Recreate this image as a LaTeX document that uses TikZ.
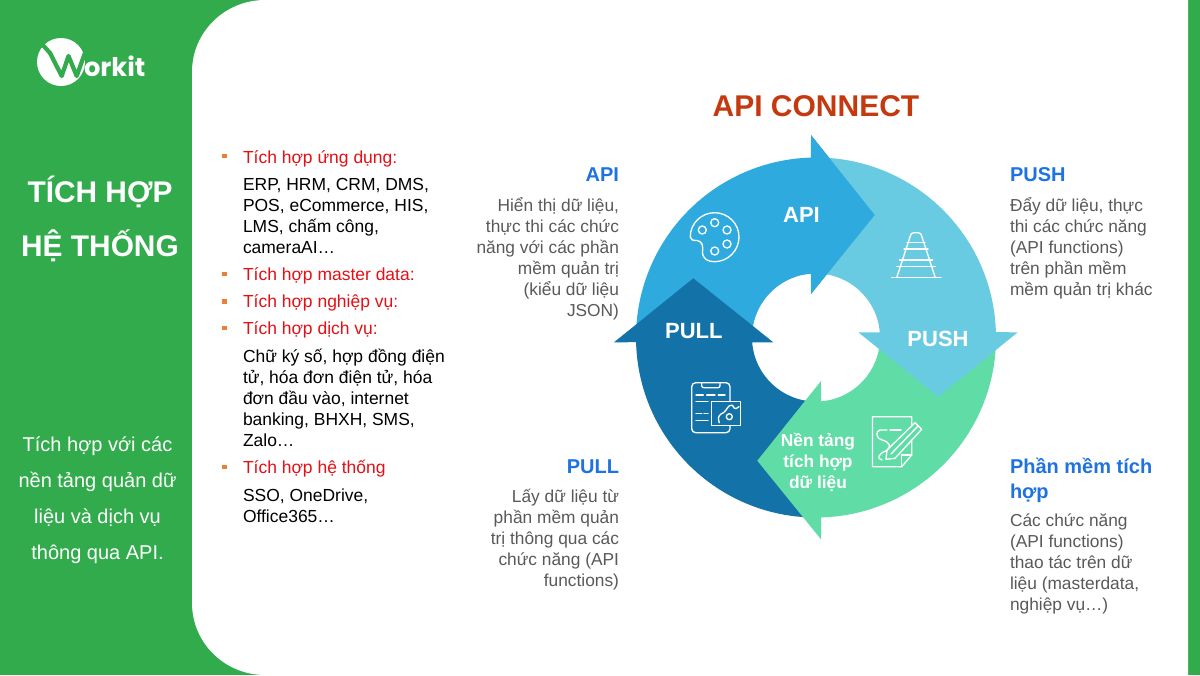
\documentclass[tikz,border=0pt]{standalone}
\usepackage{fontspec}
\setmainfont{Liberation Sans}
\newfontfamily\logofont{Poppins}[BoldFont=* Bold]
\usetikzlibrary{calc}
\definecolor{pagegreen}{HTML}{31AB4C}
\definecolor{apiblue}{HTML}{2EAADF}
\definecolor{pushblue}{HTML}{69CBE2}
\definecolor{mint}{HTML}{60DCA6}
\definecolor{pulldark}{HTML}{1373A8}
\definecolor{titlered}{HTML}{C5390F}
\definecolor{headblue}{HTML}{1F73E0}
\definecolor{greytext}{HTML}{595959}
\definecolor{listred}{HTML}{E31016}
\definecolor{bulletor}{HTML}{E8803A}
\tikzset{
  txt/.style={inner sep=0pt,outer sep=0pt},
  sidehead/.style={txt,anchor=base,text=white,font=\bfseries\fontsize{22.4}{26}\selectfont},
  sidebody/.style={txt,anchor=base,text=white,align=center,font=\fontsize{15}{27}\selectfont},
  ringlabel/.style={txt,anchor=base,text=white,align=center,font=\bfseries\fontsize{16.5}{19}\selectfont},
  headR/.style={txt,anchor=base east,text=headblue,font=\bfseries\fontsize{15}{18.75}\selectfont},
  headL/.style={txt,anchor=base west,align=left,text=headblue,font=\bfseries\fontsize{15}{18.75}\selectfont},
  bodyR/.style={txt,anchor=base east,align=right,text=greytext,font=\fontsize{13}{15.75}\selectfont},
  bodyL/.style={txt,anchor=base west,align=left,text=greytext,font=\fontsize{13}{15.75}\selectfont},
  listhead/.style={txt,anchor=base west,text=listred,font=\fontsize{13.1}{15.75}\selectfont},
  listbody/.style={txt,anchor=base west,align=left,text=black,font=\fontsize{13.1}{15.75}\selectfont},
  bullet/.style={fill=bulletor,draw=none,minimum size=3.4pt,inner sep=0pt},
  icon/.style={draw=white,line width=1pt,line cap=round,line join=round},
}
\begin{document}
\begin{tikzpicture}[x=0.75pt,y=-0.75pt]
\useasboundingbox (0,0) rectangle (1200,675);
% page
\fill[pagegreen] (0,0) rectangle (1200,675);
\fill[white] (1188,0) -- (265,0) .. controls (225,0) and (192,32) .. (192,72) -- (192,603) .. controls (192,643) and (225,675) .. (265,675) -- (1188,675) -- cycle;
% logo
\fill[white] (61,62) circle[radius=24];
\draw[pagegreen,line width=3.2pt,line join=round] (41,43) -- (50,53) -- (61.7,76) -- (68.5,56) -- (76.7,76) -- (86,50);
\node[txt,anchor=base west,text=white,font=\logofont\bfseries\fontsize{19.3}{24}\selectfont] (logotext) at (84,76) {orkit};
% sidebar
\node[sidehead] (side1) at (100,202) {TÍCH HỢP};
\node[sidehead] (side2) at (100,256) {HỆ THỐNG};
\node[sidebody] (sidetxt) at (97.5,559) {Tích hợp với các\\nền tảng quản dữ\\liệu và dịch vụ\\thông qua API.};
% list
\node[bullet] (b1) at (224.5,156) {};
\node[bullet] (b2) at (224.5,274) {};
\node[bullet] (b3) at (224.5,301.5) {};
\node[bullet] (b4) at (224.5,328) {};
\node[bullet] (b5) at (224.5,467) {};
\node[listhead] (l1) at (243,163) {Tích hợp ứng dụng:};
\node[listbody] (l1b) at (243,253) {ERP, HRM, CRM, DMS,\\POS, eCommerce, HIS,\\LMS, chấm công,\\cameraAI…};
\node[listhead] (l2) at (243,280) {Tích hợp master data:};
\node[listhead] (l3) at (243,307) {Tích hợp nghiệp vụ:};
\node[listhead] (l4) at (243,334) {Tích hợp dịch vụ:};
\node[listbody] (l4b) at (243,446) {Chữ ký số, hợp đồng điện\\tử, hóa đơn điện tử, hóa\\đơn đầu vào, internet\\banking, BHXH, SMS,\\Zalo…};
\node[listhead] (l5) at (243,473) {Tích hợp hệ thống};
\node[listbody] (l5b) at (243,522.5) {SSO, OneDrive,\\Office365…};
% title
\node[txt,anchor=base,text=titlered,font=\bfseries\fontsize{22.5}{27}\selectfont] (title) at (816,116) {API CONNECT};
% ring
\coordinate (c) at (816,337.5);
\fill[apiblue] ($(c)+(178:180)$) arc[start angle=178,end angle=268.4,radius=180] -- (811,135) -- (874.7,215) -- (811,294) -- ($(c)+(265.5:64)$) arc[start angle=265.5,end angle=176,radius=64] -- cycle;
\fill[pulldark] ($(c)+(90:180)$) arc[start angle=90,end angle=178.5,radius=180] -- (614,342.3) -- (693.3,278.3) -- (773.3,342.3) -- ($(c)+(175.7:64)$) arc[start angle=175.7,end angle=90,radius=64] -- cycle;
\fill[mint] ($(c)+(0:180)$) arc[start angle=0,end angle=88.4,radius=180] -- (821,539.3) -- (757.3,460.7) -- (821,381) -- ($(c)+(85.5:64)$) arc[start angle=85.5,end angle=0,radius=64] -- cycle;
\fill[pushblue] ($(c)+(270:180)$) arc[start angle=270,end angle=358.3,radius=180] -- (1017.7,332.3) -- (938.3,396.7) -- (858.3,332.3) -- ($(c)+(355.3:64)$) arc[start angle=355.3,end angle=270,radius=64] -- cycle;
\fill[apiblue] (811,135) -- (874.7,215) -- (811,294) -- cycle;
% ring labels
\node[ringlabel] (rapi) at (801.5,222.7) {API};
\node[ringlabel] (rpush) at (938,346.7) {PUSH};
\node[ringlabel] (rpull) at (693.8,338) {PULL};
\node[ringlabel,font=\bfseries\fontsize{13}{15.75}\selectfont] (rnen) at (818,488) {Nền tảng\\tích hợp\\dữ liệu};
% palette icon
\draw[icon] (690.3,237) .. controls (690,224) and (701,212.7) .. (714.5,212.7) .. controls (728,212.7) and (739,223.5) .. (739,237) .. controls (739,250.5) and (728,261.7) .. (714.5,261.7) .. controls (708,261.7) and (702.5,259) .. (702.5,252) .. controls (703.5,246) and (702,241) .. (697,240.5) .. controls (693,240.5) and (690.4,240) .. (690.3,237) -- cycle;
\foreach \p in {(702.3,230),(714.7,222.7),(727,230),(727,244),(714.7,251)} \draw[icon] \p circle[radius=4];
% cone icon
\draw[icon] (891.7,277.7) -- (941,277.7);
\draw[icon] (896.7,277.7) -- (910,237) .. controls (911,233.5) and (912,232.7) .. (914,232.7) -- (918,232.7) .. controls (920,232.7) and (921,233.5) .. (922,237) -- (935.3,277.7);
\draw[icon] (907,242.3) -- (925,242.3);
\draw[icon] (904,249) -- (928,249);
\draw[icon] (899.5,260) -- (932.5,260);
\draw[icon] (896.5,266.7) -- (935.5,266.7);
% clipboard icon
\draw[icon,rounded corners=3pt] (691.7,382.7) rectangle (730,432.7);
\draw[icon,rounded corners=1.5pt] (701.7,382.7) -- (701.7,387.7) -- (720,387.7) -- (720,382.7);
\draw[icon] (696,395) -- (703.3,395) (706.7,395) -- (715,395) (718.3,395) -- (725,395);
\draw[icon] (696,401.7) -- (708,401.7);
\draw[icon] (696,413.3) -- (701.7,413.3) (704,413.3) -- (708,413.3);
\draw[icon] (696,420.7) -- (708,420.7);
\draw[icon,fill=pulldark,line cap=butt] (711.7,401.7) rectangle (740.7,425.5);
\draw[icon] (729.3,416.7) circle[radius=3];
\draw[icon] (719.3,422.7) .. controls (718,419) and (718,416) .. (721,414) .. controls (725,413) and (727,408) .. (729,406) .. controls (731,404) and (733,405) .. (734,408) .. controls (735,410) and (737,408) .. (739,406.7);
% document icon
\draw[icon] (911.7,425) -- (911.7,416.7) -- (872.5,416.7) -- (872.5,466.7) -- (901.7,466.7) -- (911.7,455) -- (911.7,441);
\draw[icon] (901.7,466.7) -- (901.7,455) -- (911.7,455);
\draw[icon] (887,430) -- (880,430) .. controls (875,431) and (876,439) .. (882,440) .. controls (890,442) and (892,447) .. (886,451) .. controls (879,453) and (876,459) .. (882,460);
\draw[icon] (890,430) -- (901,430);
\draw[icon] (886,459.3) -- (887,450) -- (915,422.7) -- (921.7,429.3) -- (895,458.3) -- cycle;
\draw[icon] (891,454) -- (918,426);
% texts on sides
\node[headR] (hapi) at (619,181) {API};
\node[bodyR] (tapi) at (619,316) {Hiển thị dữ liệu,\\thực thi các chức\\năng với các phần\\mềm quản trị\\(kiểu dữ liệu\\JSON)};
\node[headL] (hpush) at (1010,181) {PUSH};
\node[bodyL] (tpush) at (1010,295) {Đẩy dữ liệu, thực\\thi các chức năng\\(API functions)\\trên phần mềm\\mềm quản trị khác};
\node[headR] (hpull) at (619,473) {PULL};
\node[bodyR] (tpull) at (619,586) {Lấy dữ liệu từ\\phần mềm quản\\trị thông qua các\\chức năng (API\\functions)};
\node[headL] (hsoft) at (1010,498) {Phần mềm tích\\hợp};
\node[bodyL] (tsoft) at (1010,610.7) {Các chức năng\\(API functions)\\thao tác trên dữ\\liệu (masterdata,\\nghiệp vụ…)};
\end{tikzpicture}
\end{document}
